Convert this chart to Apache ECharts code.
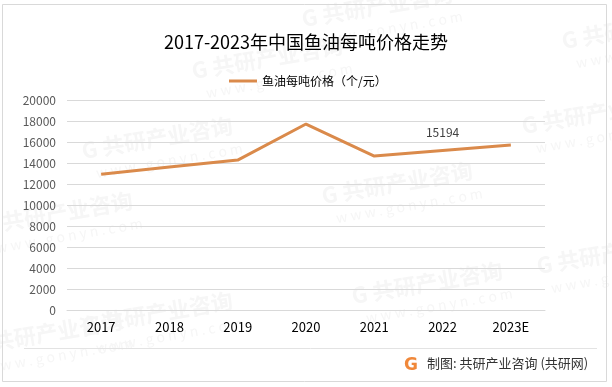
<!DOCTYPE html>
<html><head><meta charset="utf-8">
<script src="https://cdn.jsdelivr.net/npm/echarts@6/dist/echarts.min.js"></script>
<style>html,body{margin:0;padding:0;background:#fff}#c{width:612px;height:387px}</style>
</head><body><div id="c"></div>
<script>
var categories = ['2017','2018','2019','2020','2021','2022','2023E'];
var priceValues = [12920, 13620, 14280, 17710, 14660, 15194, 15710];
var yTicks = [0,2000,4000,6000,8000,10000,12000,14000,16000,18000,20000];
var labeledIndex = 5;
var titleText = '2017-2023年中国鱼油每吨价格走势';
var seriesName = '鱼油每吨价格（个/元）';
var footerText = '制图: 共研产业咨询 (共研网)';

var chart = echarts.init(document.getElementById('c'), null, {renderer:'canvas'});
var font = '"Noto Sans CJK SC", "Noto Sans", sans-serif';

var wm = [];
var wmPos = [[300,8],[80,140],[320,185],[520,115],[-20,215],[350,285],[535,255],[80,315],[560,30],[-30,335],[190,60]];
wmPos.forEach(function(p){
  wm.push({type:'text', x:p[0], y:p[1], rotation:0.17, silent:true, z:0,
    style:{text:'G 共研产业咨询', fill:'#f6f6f6', font:'bold 22px '+font}});
  wm.push({type:'text', x:p[0]+15, y:p[1]+26, rotation:0.17, silent:true, z:0,
    style:{text:'w w w . g o n y n . c o m', fill:'#f6f6f6', font:'14px '+font}});
});

var data = priceValues.map(function(v,i){
  if (i === labeledIndex) return {value:v, label:{show:true, position:'top', distance:12, color:'#404040', fontSize:12, fontFamily:font}};
  return v;
});

chart.setOption({
  backgroundColor:'#fff',
  animation:false,
  title:{text:titleText, left:'center', top:28, textStyle:{fontSize:18, fontWeight:'normal', color:'#000', fontFamily:font}},
  legend:{left:224, top:70, itemWidth:28, itemHeight:3, icon:'rect',
    textStyle:{fontSize:12, color:'#000', fontFamily:font}, data:[seriesName]},
  grid:{left:67, right:67, top:100, bottom:77},
  xAxis:{type:'category', data:categories, boundaryGap:true,
    axisLine:{show:true, lineStyle:{color:'#d9d9d9', width:1}}, axisTick:{show:false},
    axisLabel:{color:'#000', fontSize:13, margin:11, fontFamily:font}},
  yAxis:{type:'value', min:yTicks[0], max:yTicks[yTicks.length-1], interval:yTicks[1]-yTicks[0],
    axisLine:{show:false}, axisTick:{show:false},
    splitLine:{lineStyle:{color:'#d9d9d9', width:1}},
    axisLabel:{color:'#595959', fontSize:12, margin:11, fontFamily:font, formatter:function(v){return String(v);}}},
  series:[{name:seriesName, type:'line', data:data, symbol:'circle', symbolSize:0, showSymbol:true, z:5,
    lineStyle:{color:'#DA8A4B', width:3}, itemStyle:{color:'#DA8A4B'}}],
  graphic: wm.concat([
    {type:'rect', shape:{x:2.5, y:4.5, width:604, height:377}, style:{fill:null, stroke:'#d9d9d9', lineWidth:1}, silent:true, z:1},
    {type:'line', shape:{x1:24, y1:348.5, x2:597, y2:348.5}, style:{stroke:'#e3e3e3', lineWidth:1}, silent:true, z:1},
    {type:'text', x:404, y:357, style:{text:'G', fill:'#F0883A', font:'bold 17px "DejaVu Sans", sans-serif'}, z:10},
    {type:'text', x:427, y:357, style:{text:footerText, fill:'#333', font:'13px '+font}, z:10}
  ])
});
</script></body></html>
